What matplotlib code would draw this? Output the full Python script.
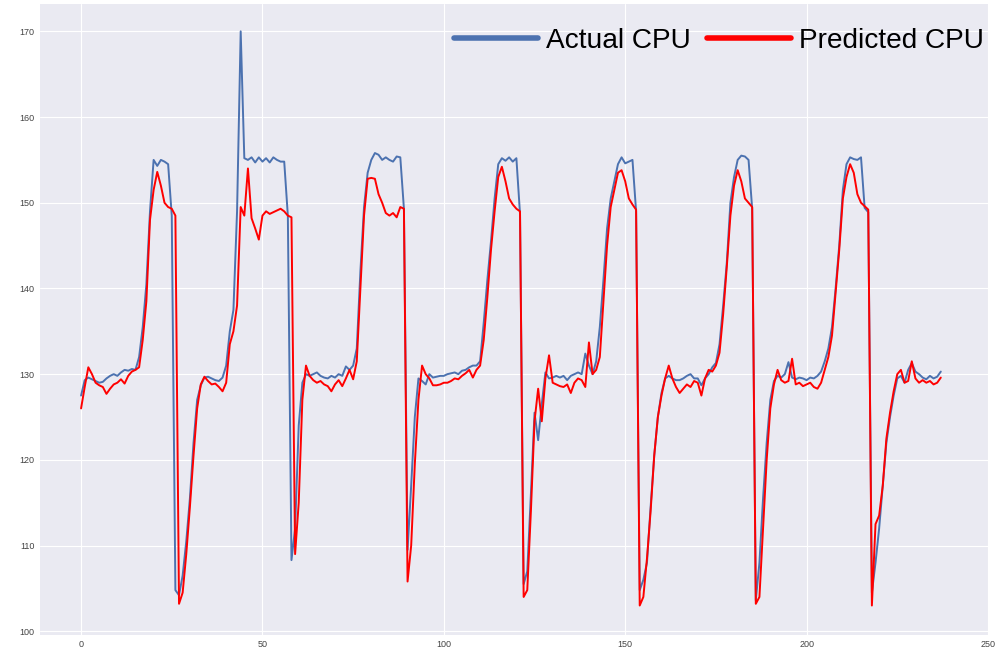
import numpy as np
import matplotlib
matplotlib.use("Agg")
import matplotlib.pyplot as plt
plt.style.use('seaborn-v0_8-darkgrid')

# ----- CPU usage: actual vs model prediction -----
actual_cpu = [
    127.5, 129.3, 129.6, 129.4, 129.2, 129.0, 129.1, 129.5, 129.8, 130.0,
    129.8, 130.2, 130.5, 130.4, 130.6, 130.5, 132.0, 135.5, 140.5, 149.0,
    155.0, 154.3, 155.0, 154.8, 154.5, 148.5, 104.8, 104.2, 106.5, 110.5,
    115.5, 122.0, 127.0, 128.7, 129.6, 129.7, 129.5, 129.3, 129.2, 129.6,
    131.0, 135.0, 137.5, 149.0, 170.0, 155.2, 155.0, 155.3, 154.7, 155.3,
    154.8, 155.2, 154.7, 155.3, 155.0, 154.8, 154.8, 148.5, 108.3, 112.0,
    124.0, 129.0, 130.0, 129.8, 130.0, 130.2, 129.8, 129.6, 129.5, 129.8,
    129.6, 130.0, 129.8, 130.9, 130.5, 131.0, 133.0, 142.0, 149.5, 153.5,
    155.0, 155.8, 155.6, 155.0, 155.3, 155.0, 154.8, 155.4, 155.3, 149.3,
    109.5, 117.0, 125.0, 129.5, 129.2, 128.8, 130.0, 129.6, 129.7, 129.8,
    129.8, 130.0, 130.1, 130.2, 130.0, 130.4, 130.5, 130.8, 131.0, 131.0,
    131.5, 136.0, 141.0, 145.5, 150.5, 154.5, 155.2, 154.9, 155.3, 154.8,
    155.2, 148.7, 105.5, 107.0, 116.0, 125.5, 122.3, 126.5, 130.2, 129.5,
    129.6, 129.8, 129.6, 129.8, 129.3, 129.8, 130.0, 130.2, 130.0, 132.4,
    131.0, 130.0, 131.5, 135.5, 141.0, 147.0, 150.5, 152.5, 154.5, 155.3,
    154.6, 154.8, 155.0, 149.0, 104.8, 106.0, 108.0, 114.5, 120.5, 125.0,
    127.8, 129.5, 129.8, 129.5, 129.3, 129.3, 129.5, 129.8, 130.0, 129.5,
    129.5, 128.7, 129.5, 130.0, 130.8, 131.3, 133.5, 138.0, 143.0, 150.0,
    153.0, 155.0, 155.5, 155.4, 155.0, 149.3, 103.6, 108.0, 115.5, 122.0,
    127.0, 129.2, 129.8, 129.6, 130.0, 131.4, 129.6, 129.4, 129.6, 129.5,
    129.3, 129.6, 129.5, 129.8, 130.3, 131.5, 133.0, 135.5, 140.0, 145.0,
    151.5, 154.5, 155.3, 155.1, 155.0, 155.3, 149.4, 148.9, 104.5, 108.0,
    112.0, 117.0, 122.0, 125.0, 127.5, 129.5, 129.8, 129.0, 130.5, 131.3,
    130.3, 130.0, 129.6, 129.4, 129.8, 129.5, 129.7, 130.3,
]

predicted_cpu = [
    126.0, 128.5, 130.8, 130.0, 129.0, 128.7, 128.5, 127.7, 128.3, 128.8,
    129.0, 129.4, 128.9, 129.8, 130.3, 130.5, 130.8, 134.0, 138.5, 148.0,
    151.5, 153.6, 152.0, 150.0, 149.5, 149.3, 148.5, 103.2, 104.5, 109.0,
    114.5, 120.5, 126.0, 128.8, 129.7, 129.2, 128.8, 128.9, 128.5, 128.0,
    129.0, 133.5, 135.0, 138.0, 149.5, 148.5, 154.0, 148.2, 147.0, 145.7,
    148.5, 149.0, 148.7, 148.9, 149.1, 149.3, 149.0, 148.5, 148.3, 109.0,
    115.0, 127.0, 131.0, 129.8, 129.3, 129.0, 129.2, 128.8, 128.6, 128.0,
    128.8, 129.3, 128.6, 129.5, 130.5, 129.4, 131.5, 140.0, 148.5, 152.8,
    152.9, 152.8, 151.0, 150.0, 148.8, 148.5, 148.8, 148.3, 149.5, 149.3,
    105.8, 110.0, 119.5, 127.0, 131.0, 130.0, 129.5, 128.7, 128.7, 128.8,
    129.0, 129.0, 129.2, 129.5, 129.4, 129.8, 130.1, 130.5, 129.6, 130.5,
    131.0, 134.0, 139.0, 144.5, 149.0, 153.0, 154.2, 152.5, 150.5, 149.8,
    149.3, 149.0, 104.0, 104.8, 114.0, 124.5, 128.3, 124.5, 129.5, 132.2,
    129.0, 128.8, 128.6, 128.5, 128.8, 127.8, 129.0, 129.5, 129.3, 128.5,
    133.7, 130.0, 130.5, 132.0, 138.5, 145.0, 149.5, 151.5, 153.5, 153.8,
    152.5, 150.5, 149.8, 149.2, 103.0, 104.0, 108.5, 114.0, 120.5, 125.0,
    127.5, 129.5, 131.0, 129.5, 128.5, 127.8, 128.3, 128.8, 128.5, 129.2,
    129.0, 127.5, 129.5, 130.5, 130.3, 131.0, 132.5, 137.0, 142.5, 148.5,
    152.0, 153.8, 152.5, 150.5, 150.0, 149.5, 103.2, 104.0, 112.0, 120.0,
    126.0, 128.8, 130.5, 129.3, 129.0, 129.2, 131.8, 128.8, 129.0, 128.6,
    128.8, 129.0, 128.5, 128.3, 129.0, 130.5, 132.0, 134.5, 139.5, 144.5,
    150.5, 153.0, 154.5, 153.5, 151.0, 150.0, 149.6, 149.2, 103.0, 112.5,
    113.5, 117.0, 122.5, 125.5, 128.0, 130.0, 130.5, 129.0, 129.2, 131.5,
    129.5, 129.0, 129.3, 129.0, 129.2, 128.8, 129.0, 129.6,
]

x_vals = np.arange(len(actual_cpu))

fig = plt.figure(figsize=(10.02, 6.57), dpi=100)
ax = fig.add_axes([0.040, 0.034, 0.946, 0.960])

ax.plot(x_vals, actual_cpu, color="#4C72B0", lw=1.4, label="Actual CPU")
ax.plot(x_vals[:len(predicted_cpu)], predicted_cpu, color="#ff0000", lw=1.4,
        label="Predicted CPU")

ax.set_xlim(-11.3, 249.5)
ax.set_ylim(99.6, 173.2)
ax.set_xticks([0, 50, 100, 150, 200, 250])
ax.set_yticks([100, 110, 120, 130, 140, 150, 160, 170])
ax.tick_params(labelsize=6.5, colors="#444444", pad=4)

leg = ax.legend(loc="upper right", bbox_to_anchor=(1.018, 0.996), ncol=2,
                frameon=False,
                prop={"family": "Liberation Sans", "size": 20.2},
                handlelength=3.0, handletextpad=0.3, columnspacing=0.55,
                borderaxespad=0.55, borderpad=0.2)
for line in leg.get_lines():
    line.set_linewidth(4.0)
for txt in leg.get_texts():
    txt.set_color("black")

fig.savefig("out.png", dpi=100)
